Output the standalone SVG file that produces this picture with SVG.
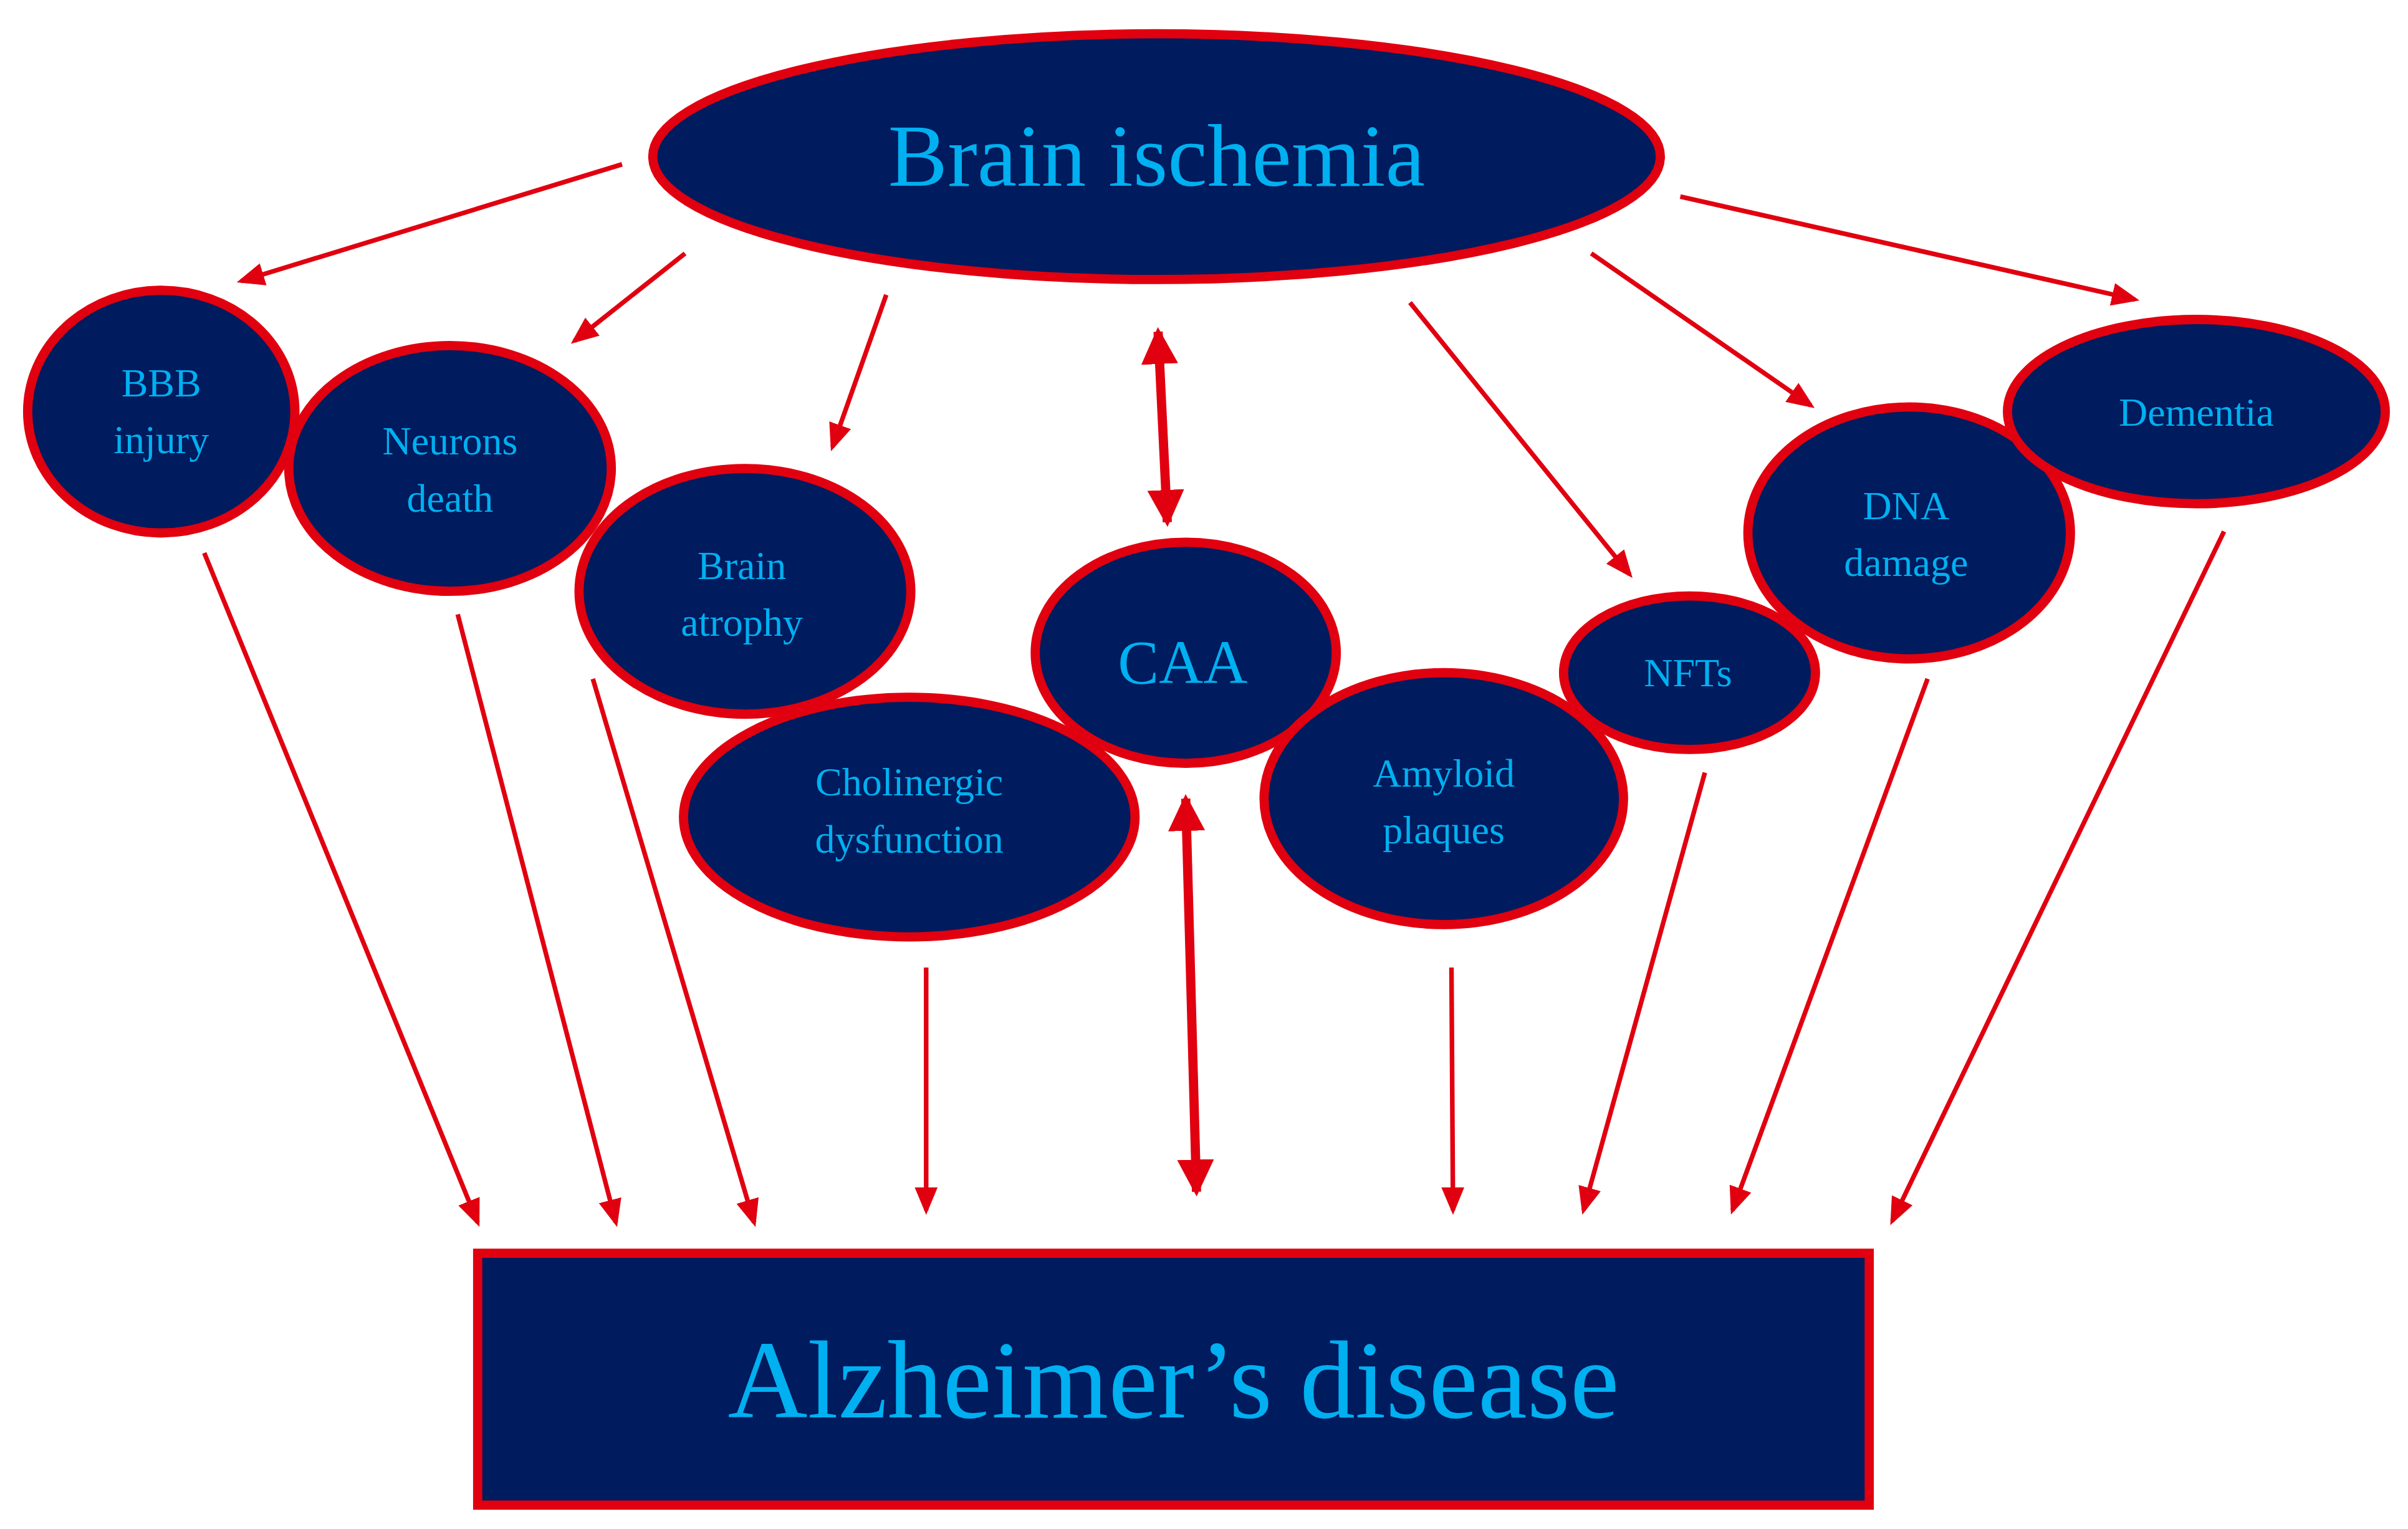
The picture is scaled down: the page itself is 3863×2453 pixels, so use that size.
<svg xmlns="http://www.w3.org/2000/svg" width="3863" height="2453" viewBox="0 0 3863 2453">
<style>
.n{fill:#001b5e;stroke:#e1000f;stroke-width:6}
.t{fill:#00b0f0;font-family:"Liberation Serif",serif;text-anchor:middle}
.a{stroke:#e1000f;stroke-width:3;fill:none;marker-end:url(#h)}
.d{stroke:#e1000f;stroke-width:6;fill:none;marker-end:url(#h2);marker-start:url(#h2s)}
</style>
<defs>
<marker id="h" markerWidth="6" markerHeight="5" refX="5" refY="2.5" orient="auto" markerUnits="strokeWidth"><path d="M0,0L6,2.5L0,5z" fill="#e1000f"/></marker>
<marker id="h2" markerWidth="4" markerHeight="4" refX="3.5" refY="2" orient="auto" markerUnits="strokeWidth"><path d="M0,0L4,2L0,4z" fill="#e1000f"/></marker>
<marker id="h2s" markerWidth="4" markerHeight="4" refX="0.5" refY="2" orient="auto" markerUnits="strokeWidth"><path d="M4,0L0,2L4,4z" fill="#e1000f"/></marker>
</defs>
<rect width="3863" height="2453" fill="#fff"/>
<g transform="scale(2.464)">
<g id="connectors">
<line class="a" x1="405" y1="107" x2="157" y2="183"/>
<line class="a" x1="446" y1="165" x2="374" y2="222"/>
<line class="a" x1="577" y1="192" x2="542" y2="291"/>
<line class="d" x1="754" y1="216" x2="760" y2="340"/>
<line class="a" x1="918" y1="197" x2="1061" y2="374"/>
<line class="a" x1="1036" y1="165" x2="1179" y2="264"/>
<line class="a" x1="1094" y1="128" x2="1390" y2="195"/>
<line class="a" x1="133" y1="360" x2="311" y2="796"/>
<line class="a" x1="298" y1="400" x2="401" y2="796"/>
<line class="a" x1="386" y1="442" x2="491" y2="796"/>
<line class="a" x1="603" y1="630" x2="603" y2="788"/>
<line class="d" x1="772" y1="520" x2="779" y2="776"/>
<line class="a" x1="945" y1="630" x2="946" y2="788"/>
<line class="a" x1="1110" y1="503" x2="1031" y2="788"/>
<line class="a" x1="1255" y1="442" x2="1128" y2="788"/>
<line class="a" x1="1448" y1="346" x2="1232" y2="795"/>
</g>
<g id="ischemia"><ellipse class="n" cx="753" cy="102" rx="328" ry="80" stroke-width="9"/><text class="t" x="753" y="121" font-size="58">Brain ischemia</text></g>
<g id="bbb"><ellipse class="n" cx="105" cy="268" rx="87" ry="79"/><text class="t" x="105" y="258" font-size="26">BBB</text><text class="t" x="105" y="295" font-size="26">injury</text></g>
<g id="neurons"><ellipse class="n" cx="293" cy="305" rx="105" ry="80"/><text class="t" x="293" y="296" font-size="26">Neurons</text><text class="t" x="293" y="333" font-size="26">death</text></g>
<g id="atrophy"><ellipse class="n" cx="485" cy="385" rx="108" ry="80"/><text class="t" x="483" y="377" font-size="26">Brain</text><text class="t" x="483" y="414" font-size="26">atrophy</text></g>
<g id="cholinergic"><ellipse class="n" cx="592" cy="532" rx="147" ry="78"/><text class="t" x="592" y="518" font-size="26">Cholinergic</text><text class="t" x="592" y="555" font-size="26">dysfunction</text></g>
<g id="caa"><ellipse class="n" cx="772" cy="425" rx="98" ry="72"/><text class="t" x="770" y="445" font-size="40">CAA</text></g>
<g id="amyloid"><ellipse class="n" cx="940" cy="520" rx="117" ry="82"/><text class="t" x="940" y="512" font-size="26">Amyloid</text><text class="t" x="940" y="549" font-size="26">plaques</text></g>
<g id="nfts"><ellipse class="n" cx="1100" cy="438" rx="82" ry="50"/><text class="t" x="1099" y="447" font-size="26">NFTs</text></g>
<g id="dna"><ellipse class="n" cx="1243" cy="347" rx="105" ry="82"/><text class="t" x="1241" y="338" font-size="26">DNA</text><text class="t" x="1241" y="375" font-size="26">damage</text></g>
<g id="dementia"><ellipse class="n" cx="1430" cy="268" rx="123" ry="60"/><text class="t" x="1430" y="277" font-size="26">Dementia</text></g>
<g id="ad"><rect class="n" x="311" y="816" width="906" height="164" stroke-width="8"/><text class="t" x="764" y="923" font-size="72">Alzheimer’s disease</text></g>
</g>
</svg>
